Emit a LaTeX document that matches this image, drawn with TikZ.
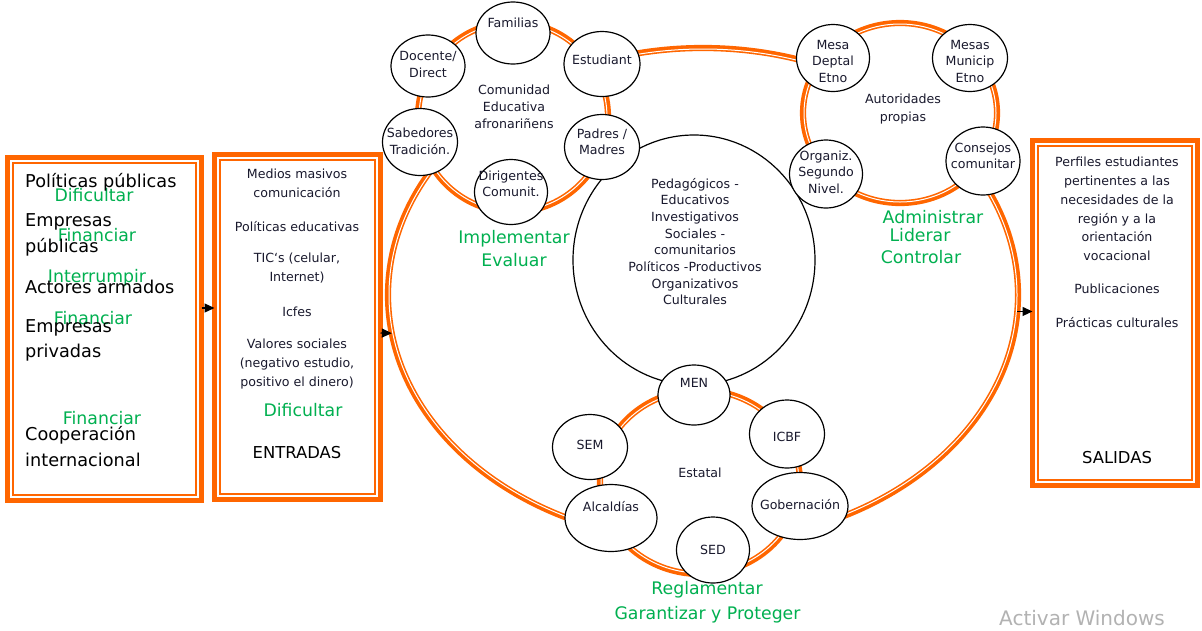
\documentclass[tikz,border=0pt]{standalone}
\usepackage{fontspec}
\setmainfont{DejaVu Sans}
\usetikzlibrary{shapes.geometric,arrows.meta}
\definecolor{orng}{RGB}{255,102,0}
\definecolor{grn}{RGB}{0,176,80}
\definecolor{ink}{RGB}{25,25,45}
\begin{document}
\begin{tikzpicture}[x=1pt,y=-1pt,
  ring/.style={draw=orng,line width=6.2pt,ellipse,inner sep=0pt,outer sep=0pt},
  wline/.style={draw=white,line width=1pt},
  bub/.style={draw=black,line width=1.2pt,fill=white,ellipse,inner sep=0pt,outer sep=0pt},
  boxf/.style={draw=orng,line width=5.5pt,inner sep=0pt,outer sep=0pt,rectangle},
  innerf/.style={draw=orng,line width=1.5pt},
  sm/.style={font=\fontsize{12.6}{16.5}\selectfont,text=ink,align=center,inner sep=0pt},
  smb/.style={font=\fontsize{12.6}{19}\selectfont,text=ink,align=center,inner sep=0pt},
  bigt/.style={font=\fontsize{17.7}{25}\selectfont,text=black,anchor=west,inner sep=0pt},
  gr/.style={font=\fontsize{17.3}{23}\selectfont,text=grn,align=center,inner sep=0pt},
  hd/.style={font=\fontsize{16.4}{20}\selectfont,text=black,inner sep=0pt},
  arr/.style={-{Triangle[length=10pt,width=9pt]},line width=1.3pt,black}]
\useasboundingbox (0,0) rectangle (1202,630);
\fill[white] (0,0) rectangle (1202,630);

% boxes
\node[boxf,minimum width=194,minimum height=343] (b1) at (104.5,329) {};
\draw[innerf] ([shift={(5.5,5.5)}]b1.north west) rectangle ([shift={(-5.5,-5.5)}]b1.south east);
\node[boxf,minimum width=166,minimum height=345] (b2) at (297.5,327) {};
\draw[innerf] ([shift={(5.5,5.5)}]b2.north west) rectangle ([shift={(-5.5,-5.5)}]b2.south east);
\node[boxf,minimum width=165,minimum height=345] (b3) at (1115,313) {};
\draw[innerf] ([shift={(5.5,5.5)}]b3.north west) rectangle ([shift={(-5.5,-5.5)}]b3.south east);

% big ring
\node[ring,minimum width=630,minimum height=494] (bigring) at (703,295) {};
\draw[wline] (bigring.center) ellipse [x radius=314, y radius=246];

% cluster rings
\node[ring,fill=white,minimum width=190,minimum height=190] (r1) at (513,117) {};
\draw[wline] (r1.center) ellipse [x radius=94, y radius=94];
\node[ring,fill=white,minimum width=194,minimum height=180] (r2) at (900,113) {};
\draw[wline] (r2.center) ellipse [x radius=96, y radius=89];
\node[ring,fill=white,minimum width=200,minimum height=184] (r3) at (700,482) {};
\draw[wline] (r3.center) ellipse [x radius=99, y radius=91];

% central circle
\node[bub,minimum width=242,minimum height=250] (cen) at (694,260) {};

% bubbles cluster 1
\node[bub,minimum width=74,minimum height=62] (fam) at (513,33) {};
\node[bub,minimum width=74,minimum height=62] (doc) at (428,66) {};
\node[bub,minimum width=76,minimum height=65] (est) at (602,64) {};
\node[bub,minimum width=75,minimum height=67] (sab) at (420,142) {};
\node[bub,minimum width=75,minimum height=65] (pad) at (602,147) {};
\node[bub,minimum width=73,minimum height=65] (dir) at (511,192) {};
% cluster 2
\node[bub,minimum width=73,minimum height=67] (mde) at (833,58) {};
\node[bub,minimum width=75,minimum height=67] (mmu) at (970,58) {};
\node[bub,minimum width=73,minimum height=68] (org) at (826,174) {};
\node[bub,minimum width=74,minimum height=68] (con) at (983,161) {};
% cluster 3
\node[bub,minimum width=72,minimum height=60] (men) at (694,395) {};
\node[bub,minimum width=75,minimum height=65] (sem) at (590,447) {};
\node[bub,minimum width=75,minimum height=68] (icbf) at (787,434) {};
\node[bub,minimum width=92,minimum height=67] (alc) at (611,518) {};
\node[bub,minimum width=96,minimum height=67] (gob) at (800,506) {};
\node[bub,minimum width=73,minimum height=66] (sed) at (713,550) {};

% bubble texts
\node[sm] (tfam) at (513,23) {Familias};
\node[sm] (tdoc) at (428,64.5) {Docente/\\Direct};
\node[sm] (test) at (602,60) {Estudiant};
\node[sm] (tsab) at (420,141.5) {Sabedores\\Tradición.};
\node[sm] (tpad) at (602,142) {Padres /\\Madres};
\node[sm] (tdir) at (511,184) {Dirigentes\\Comunit.};
\node[sm] (tmde) at (833,61) {Mesa\\Deptal\\Etno};
\node[sm] (tmmu) at (970,61) {Mesas\\Municip\\Etno};
\node[sm] (torg) at (826,172) {Organiz.\\Segundo\\Nivel.};
\node[sm] (tcon) at (983,156) {Consejos\\comunitar};
\node[sm] (tmen) at (694,383) {MEN};
\node[sm] (tsem) at (590,445) {SEM};
\node[sm] (ticbf) at (787,437) {ICBF};
\node[sm] (talc) at (611,507) {Alcaldías};
\node[sm] (tgob) at (800,505) {Gobernación};
\node[sm] (tsed) at (713,550) {SED};

% cluster labels
\node[sm,font=\fontsize{12.6}{17}\selectfont] (tcom) at (514,107) {Comunidad\\Educativa\\afronariñens};
\node[sm,font=\fontsize{12.6}{18}\selectfont] (taut) at (903,109) {Autoridades\\propias};
\node[sm] (test2) at (700,473) {Estatal};
\node[sm,font=\fontsize{12.6}{16.7}\selectfont] (tcen) at (695,241.5) {Pedagógicos -\\Educativos\\Investigativos\\Sociales -\\comunitarios\\Políticos -Productivos\\Organizativos\\Culturales};

% green labels
\node[gr] (gimp) at (514,248.5) {Implementar\\Evaluar};
\node[gr] (gadm) at (933,217) {Administrar};
\node[gr] (glid) at (920,235) {Liderar};
\node[gr] (gcon) at (921,257) {Controlar};
\node[gr] (greg) at (707,590) {Reglamentar};
\node[gr] (ggar) at (707.5,615) {Garantizar y Proteger};

% box 1 texts
\node[gr] (g1) at (94,195) {Dificultar};
\node[gr] (g2) at (97,235) {Financiar};
\node[gr] (g3) at (97,278) {Interrumpir};
\node[gr] (g4) at (93,318) {Financiar};
\node[gr] (g5) at (102,418) {Financiar};
\node[bigt] (p1) at (25,182) {Políticas públicas};
\node[bigt] (p2) at (25,222) {Empresas};
\node[bigt] (p3) at (25,247) {públicas};
\node[bigt] (p4) at (25,287) {Actores armados};
\node[bigt] (p5) at (25,328) {Empresas};
\node[bigt] (p6) at (25,353) {privadas};
\node[bigt] (p7) at (25,435) {Cooperación};
\node[bigt] (p8) at (25,460) {internacional};

% box 2 texts
\node[smb] (e1) at (297,183.5) {Medios masivos\\comunicación};
\node[smb] (e2) at (297,227) {Políticas educativas};
\node[smb] (e3) at (297,268.5) {TIC`s (celular,\\Internet)};
\node[smb] (e4) at (297,312) {Icfes};
\node[smb] (e5) at (297,364) {Valores sociales\\(negativo estudio,\\positivo el dinero)};
\node[gr] (e6) at (303,410) {Dificultar};
\node[hd] (e7) at (297,453) {ENTRADAS};

% box 3 texts
\node[smb,font=\fontsize{12.6}{18.8}\selectfont] (s1) at (1117,209) {Perfiles estudiantes\\pertinentes a las\\necesidades de la\\región y a la\\orientación\\vocacional};
\node[smb] (s2) at (1117,289) {Publicaciones};
\node[smb] (s3) at (1117,323) {Prácticas culturales};
\node[hd] (s4) at (1117,458) {SALIDAS};

% arrows
\coordinate (y308) at (0,308);
\coordinate (y333) at (0,333);
\draw[arr] (b1.east |- y308) -- (b2.west |- y308);
\draw[arr] (b2.east |- y333) -- (bigring.187);
\draw[arr] (bigring.-3) -- (b3.west |- bigring.-3);

% watermark
\node[font=\fontsize{20}{24}\selectfont,text=black!30,inner sep=0pt] (wm) at (1082,618) {Activar Windows};
\end{tikzpicture}
\end{document}
